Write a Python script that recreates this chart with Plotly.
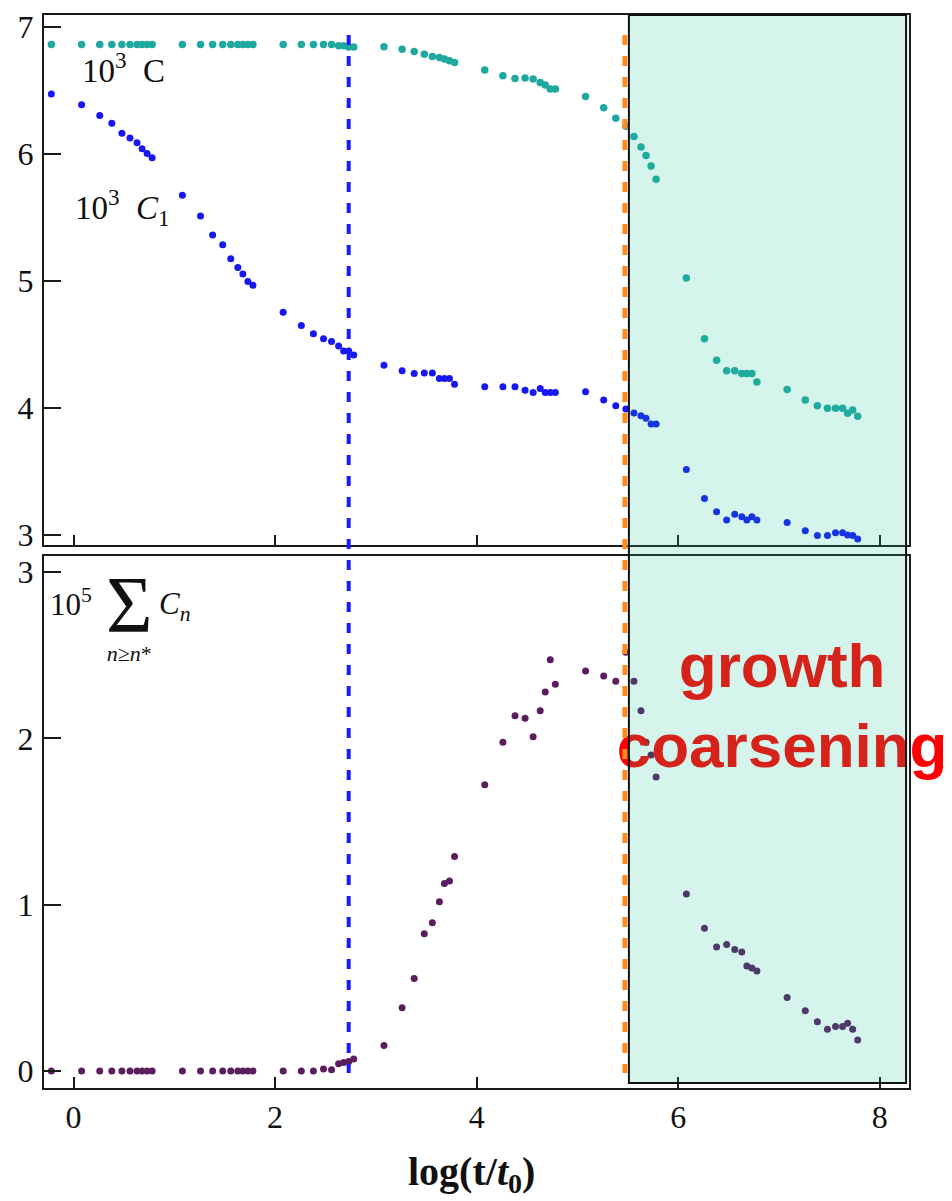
import plotly.graph_objects as go

# ---- data -------------------------------------------------------------
# log(t/t0) sample times (shared by all three series)
log_t = [
    -0.22, 0.08, 0.26, 0.38, 0.48, 0.56, 0.63, 0.68, 0.73, 0.78,
    1.08, 1.26, 1.38, 1.48, 1.56, 1.63, 1.68, 1.73, 1.78,
    2.08, 2.26, 2.38, 2.48, 2.56, 2.63, 2.68, 2.73, 2.78,
    3.08, 3.26, 3.38, 3.48, 3.56, 3.63, 3.68, 3.73, 3.78,
    4.08, 4.26, 4.38, 4.48, 4.56, 4.63, 4.68, 4.73, 4.78,
    5.08, 5.26, 5.38, 5.48, 5.56, 5.63, 5.68, 5.73, 5.78,
    6.08, 6.26, 6.38, 6.48, 6.56, 6.63, 6.68, 6.73, 6.78,
    7.08, 7.26, 7.38, 7.48, 7.56, 7.63, 7.68, 7.73, 7.78,
]

# 10^3 C  (total concentration)
c_total = [
    6.86, 6.86, 6.86, 6.86, 6.86, 6.86, 6.86, 6.86, 6.86, 6.86,
    6.86, 6.86, 6.86, 6.86, 6.86, 6.86, 6.86, 6.86, 6.86,
    6.86, 6.86, 6.86, 6.86, 6.86, 6.85, 6.85, 6.84, 6.84,
    6.843, 6.823, 6.804, 6.784, 6.765, 6.757, 6.745, 6.731, 6.718,
    6.659, 6.614, 6.593, 6.596, 6.588, 6.561, 6.541, 6.51, 6.51,
    6.45, 6.361, 6.28, 6.217, 6.136, 6.052, 5.987, 5.904, 5.80,
    5.022, 4.544, 4.374, 4.291, 4.291, 4.27, 4.27, 4.27, 4.204,
    4.145, 4.061, 4.016, 3.996, 3.996, 3.996, 3.957, 3.983, 3.934,
]

# 10^3 C1  (monomer concentration)
c_mono = [
    6.471, 6.385, 6.301, 6.240, 6.162, 6.123, 6.087, 6.040, 6.001, 5.969,
    5.674, 5.510, 5.361, 5.283, 5.173, 5.105, 5.053, 4.995, 4.964,
    4.753, 4.648, 4.583, 4.544, 4.521, 4.486, 4.447, 4.447, 4.416,
    4.335, 4.291, 4.270, 4.273, 4.273, 4.231, 4.231, 4.231, 4.186,
    4.165, 4.165, 4.165, 4.139, 4.121, 4.152, 4.121, 4.121, 4.121,
    4.126, 4.061, 4.016, 3.991, 3.959, 3.938, 3.918, 3.873, 3.873,
    3.515, 3.286, 3.182, 3.116, 3.163, 3.143, 3.116, 3.143, 3.116,
    3.098, 3.033, 2.994, 2.994, 3.017, 3.017, 2.998, 2.994, 2.967,
]

# 10^5 sum_{n>=n*} C_n  (supercritical clusters)
c_super = [
    0, 0, 0, 0, 0, 0, 0, 0, 0, 0,
    0, 0, 0, 0, 0, 0, 0, 0, 0,
    0, 0, 0, 0.012, 0.008, 0.044, 0.051, 0.057, 0.073,
    0.153, 0.38, 0.556, 0.825, 0.891, 1.018, 1.127, 1.143, 1.289,
    1.721, 1.976, 2.136, 2.12, 2.01, 2.166, 2.279, 2.472, 2.325,
    2.405, 2.375, 2.343, 2.518, 2.343, 2.166, 1.976, 1.90, 1.767,
    1.064, 0.858, 0.745, 0.761, 0.731, 0.715, 0.631, 0.619, 0.601,
    0.442, 0.362, 0.296, 0.251, 0.267, 0.267, 0.287, 0.251, 0.187,
]

x_ticks = [0, 2, 4, 6, 8]
top_y_ticks = [3, 4, 5, 6, 7]
bottom_y_ticks = [0, 1, 2, 3]

nucleation_end = 2.73      # blue dashed marker
coarsening_start = 5.47    # orange dashed marker
stage_window = [5.51, 8.26]  # shaded growth/coarsening window

stage_labels = ["<b>growth</b>", "<b>coarsening</b>"]
stage_label_x = [7.03, 7.03]
stage_label_y = [2.40, 1.92]

# ---- figure geometry --------------------------------------------------
W, H = 952, 1201
ML, MR, MT, MB = 44, 43, 9, 113
PW, PH = W - ML - MR, H - MT - MB


def px(xp):
    return (xp - ML) / PW


def py(yp):
    return (H - MB - yp) / PH


TEAL = "#1fa89f"
BLUE = "#1717f2"
PURPLE = "#5a1d5e"
SERIF = "Liberation Serif"

fig = go.Figure()

fig.add_trace(go.Scatter(
    x=log_t, y=c_total, mode="markers", xaxis="x2", yaxis="y2",
    marker=dict(color=TEAL, size=7.5, line=dict(width=0)), showlegend=False))
fig.add_trace(go.Scatter(
    x=log_t, y=c_mono, mode="markers", xaxis="x2", yaxis="y2",
    marker=dict(color=BLUE, size=7, line=dict(width=0)), showlegend=False))
fig.add_trace(go.Scatter(
    x=log_t, y=c_super, mode="markers", xaxis="x", yaxis="y",
    marker=dict(color=PURPLE, size=7, line=dict(width=0)), showlegend=False))

# stage labels, drawn beneath the translucent window
fig.add_trace(go.Scatter(
    x=stage_label_x, y=stage_label_y, mode="text", text=stage_labels,
    textposition="middle center", xaxis="x", yaxis="y", cliponaxis=False,
    textfont=dict(family="Liberation Sans", size=62, color="#ff0000"),
    showlegend=False, hoverinfo="skip"))

axis_common = dict(
    showline=True, mirror=True, linecolor="#1a1a1a", linewidth=2,
    ticks="inside", tickcolor="#1a1a1a", tickwidth=2,
    showgrid=False, zeroline=False,
    tickfont=dict(family=SERIF, size=32, color="#111"),
)

x_range = [-0.293, 8.289]

fig.update_layout(
    width=W, height=H,
    margin=dict(l=ML, r=MR, t=MT, b=MB),
    paper_bgcolor="white",
    plot_bgcolor="rgba(0,0,0,0)",
    xaxis=dict(domain=[0, 1], anchor="y", range=x_range,
               tickvals=x_ticks, ticklen=11, ticklabelstandoff=0,
               **axis_common),
    xaxis2=dict(domain=[0, 1], anchor="y2", range=x_range, matches="x",
                tickvals=x_ticks, ticklen=10, showticklabels=False,
                **axis_common),
    yaxis=dict(domain=[0, 0.4955], anchor="x", range=[-0.102, 3.094],
               tickvals=bottom_y_ticks, ticklen=17, ticklabelstandoff=2,
               **axis_common),
    yaxis2=dict(domain=[0.5057, 1], anchor="x2", range=[2.917, 7.092],
                tickvals=top_y_ticks, ticklen=17, ticklabelstandoff=2,
                **axis_common),
)

shapes = [
    dict(type="line", xref="x", yref="paper",
         x0=nucleation_end, x1=nucleation_end, y0=py(29), y1=py(1073),
         line=dict(color="#1a1aff", width=4, dash="10px,11px")),
    dict(type="line", xref="x", yref="paper",
         x0=coarsening_start, x1=coarsening_start, y0=py(29), y1=py(1073),
         line=dict(color="#ff8c1a", width=5, dash="10px,11px")),
    dict(type="rect", xref="x", yref="paper",
         x0=stage_window[0], x1=stage_window[1], y0=py(1083), y1=py(9),
         fillcolor="rgba(22,194,150,0.18)",
         line=dict(color="#111", width=2), layer="above"),
]
fig.update_layout(shapes=shapes)

ann = []


def label(text, xp, yp, size, xanchor="left", yanchor="middle", family=SERIF):
    ann.append(dict(text=text, x=px(xp), y=py(yp), xref="paper", yref="paper",
                    xanchor=xanchor, yanchor=yanchor, showarrow=False,
                    font=dict(family=family, size=size, color="#111")))


label("10<sup>3</sup>\u00a0\u00a0C", 80, 62, 33)
label("10<sup>3</sup>\u00a0\u00a0<i>C</i><sub>1</sub>", 73, 203, 33)
label("10<sup>5</sup>", 48, 600, 31)
# summation sign with its lower limit beneath it
label("<span style='font-size:80px'>\u03a3</span><br><i>n</i>\u2265<i>n</i>*",
      129, 611, 22, xanchor="center")
label("<i>C<sub>n</sub></i>", 157, 603, 31)
label("<b>log(t/<i>t</i><sub>0</sub>)</b>", 471, 1174, 40, xanchor="center")

fig.update_layout(annotations=ann)

fig.write_html("out.html")
